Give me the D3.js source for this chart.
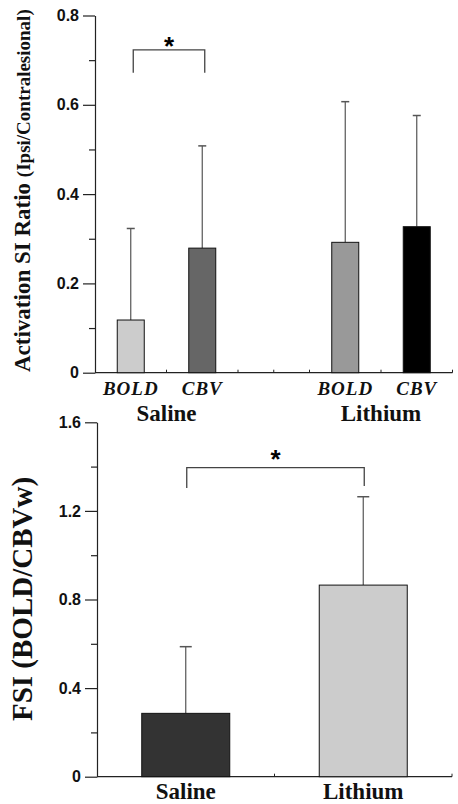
<!DOCTYPE html>
<html>
<head>
<meta charset="utf-8">
<script src="https://d3js.org/d3.v7.min.js"></script>
<style>
  body { margin: 0; background: #fff; }
  .tick text { font-family: "Liberation Sans", Arial, sans-serif; font-weight: bold; font-size: 16px; fill: #111; }
  .serif { font-family: "Liberation Serif", "Times New Roman", serif; font-weight: bold; fill: #111; }
</style>
</head>
<body>
<script>
/*
*    FSI / activation ratio bar charts
*/

// top panel data
var topGroups = ["Saline", "Lithium"];
var topMeasures = ["BOLD", "CBV"];
var topMeans = [0.118, 0.279, 0.292, 0.327];
var topErrors = [0.205, 0.229, 0.315, 0.249];
var topTicks = [0, 0.2, 0.4, 0.6, 0.8];
var topMinor = [0.1, 0.3, 0.5, 0.7];

// bottom panel data
var fsiGroups = ["Saline", "Lithium"];
var fsiMeans = [0.286, 0.865];
var fsiErrors = [0.301, 0.399];
var fsiTicks = [0, 0.4, 0.8, 1.2, 1.6];
var fsiMinor = [0.2, 0.6, 1.0, 1.4];

// styles
var topFills = ["#cccccc", "#666666", "#999999", "#000000"];
var fsiFills = ["#333333", "#cccccc"];
var errColor = "#555";
var axisColor = "#222";

var svg = d3.select("body")
    .append("svg")
        .attr("width", 458)
        .attr("height", 804);

function fmt(d) { return d === 0 ? "0" : d.toFixed(1); }

function yAxis(g, x0, y, ticks, minor) {
    var a = g.append("g").attr("transform", "translate(" + x0 + ",0)");
    a.append("g")
        .call(d3.axisLeft(y).tickValues(minor).tickSize(6).tickFormat(""))
        .call(s => s.select(".domain").remove());
    a.append("g")
        .call(d3.axisLeft(y).tickValues(ticks).tickSize(12).tickSizeOuter(0).tickPadding(4).tickFormat(fmt));
    a.selectAll("line, path").attr("stroke", axisColor).attr("stroke-width", 1.2);
}

// ---------- top panel ----------
var topSlots = [];
topGroups.forEach(function(g, i) {
    if (i > 0) topSlots.push("gap");
    topMeasures.forEach(function(m) { topSlots.push(g + "|" + m); });
});
var topBars = [];
topGroups.forEach(function(g, i) {
    topMeasures.forEach(function(m, j) {
        var k = i * topMeasures.length + j;
        topBars.push({key: g + "|" + m, group: g, measure: m, mean: topMeans[k], err: topErrors[k], fill: topFills[k]});
    });
});

var x1 = d3.scalePoint().domain(topSlots).range([95, 452.5]).padding(0.5);
var y1 = d3.scaleLinear().domain([0, 0.8]).range([372.7, 15.5]);
var bw1 = 27;

var g1 = svg.append("g");

// x axis line with small inner ticks
var step1 = x1.step();
var xTicks1 = topSlots.map(d => x1(d) + step1 / 2).concat([x1("gap")]);
g1.append("line")
    .attr("x1", x1.range()[0]).attr("x2", x1.range()[1])
    .attr("y1", y1(0)).attr("y2", y1(0))
    .attr("stroke", axisColor).attr("stroke-width", 1.2);
g1.selectAll(".xt").data(xTicks1).enter().append("line")
    .attr("x1", d => d).attr("x2", d => d)
    .attr("y1", y1(0)).attr("y2", y1(0) - 3)
    .attr("stroke", axisColor);

// error bars
var eb1 = g1.selectAll(".err").data(topBars).enter().append("g");
eb1.append("line")
    .attr("x1", d => x1(d.key)).attr("x2", d => x1(d.key))
    .attr("y1", d => y1(d.mean)).attr("y2", d => y1(d.mean + d.err))
    .attr("stroke", errColor).attr("stroke-width", 1.2);
eb1.append("line")
    .attr("x1", d => x1(d.key) - 4).attr("x2", d => x1(d.key) + 4)
    .attr("y1", d => y1(d.mean + d.err)).attr("y2", d => y1(d.mean + d.err))
    .attr("stroke", errColor).attr("stroke-width", 1.5);

g1.selectAll("rect").data(topBars).enter().append("rect")
    .attr("x", d => x1(d.key) - bw1 / 2)
    .attr("y", d => y1(d.mean))
    .attr("width", bw1)
    .attr("height", d => y1(0) - y1(d.mean))
    .attr("fill", d => d.fill)
    .attr("stroke", "#111")
    .attr("stroke-width", 1);

yAxis(g1, 95, y1, topTicks, topMinor);

// measure labels
g1.selectAll(".ml").data(topBars).enter().append("text")
    .attr("class", "serif")
    .attr("x", d => x1(d.key))
    .attr("y", 395)
    .attr("text-anchor", "middle")
    .attr("font-size", "19px")
    .attr("font-style", "italic")
    .attr("letter-spacing", "1px")
    .text(d => d.measure);

// group labels
g1.selectAll(".gl").data(topGroups).enter().append("text")
    .attr("class", "serif")
    .attr("x", d => (x1(d + "|" + topMeasures[0]) + x1(d + "|" + topMeasures[1])) / 2)
    .attr("y", 421)
    .attr("text-anchor", "middle")
    .attr("font-size", "23px")
    .text(d => d);

// significance bracket
var bA = x1("Saline|BOLD") + 2.5, bB = x1("Saline|CBV") + 2.5;
g1.append("path")
    .attr("d", "M" + bA + "," + y1(0.672) + "V" + y1(0.723) + "H" + bB + "V" + y1(0.672))
    .attr("fill", "none").attr("stroke", "#444").attr("stroke-width", 1.3);
g1.append("text")
    .attr("x", (bA + bB) / 2)
    .attr("y", 55)
    .attr("text-anchor", "middle")
    .attr("font-family", "Liberation Sans, Arial, sans-serif")
    .attr("font-weight", "bold")
    .attr("font-size", "26px")
    .text("*");

// y title
var t1 = g1.append("text")
    .attr("class", "serif")
    .attr("transform", "translate(30,372) rotate(-90)")
    .attr("text-anchor", "start");
t1.append("tspan").attr("font-size", "23px").text("Activation SI Ratio ");
t1.append("tspan").attr("font-size", "19px").text("(Ipsi/Contralesional)");

// ---------- bottom panel ----------
var fsiBars = fsiGroups.map(function(g, i) {
    return {key: g, mean: fsiMeans[i], err: fsiErrors[i], fill: fsiFills[i]};
});

var x2 = d3.scalePoint().domain(fsiGroups).range([97, 452]).padding(0.5);
var y2 = d3.scaleLinear().domain([0, 1.6]).range([776.7, 422.3]);
var bw2 = 88;

var g2 = svg.append("g");

var step2 = x2.step();
var xTicks2 = fsiGroups.map(d => x2(d)).concat(fsiGroups.map(d => x2(d) + step2 / 2));
g2.append("line")
    .attr("x1", x2.range()[0]).attr("x2", x2.range()[1])
    .attr("y1", y2(0)).attr("y2", y2(0))
    .attr("stroke", axisColor).attr("stroke-width", 1.2);
g2.selectAll(".xt").data(xTicks2).enter().append("line")
    .attr("x1", d => d).attr("x2", d => d)
    .attr("y1", y2(0)).attr("y2", y2(0) - 3)
    .attr("stroke", axisColor);

var eb2 = g2.selectAll(".err").data(fsiBars).enter().append("g");
eb2.append("line")
    .attr("x1", d => x2(d.key)).attr("x2", d => x2(d.key))
    .attr("y1", d => y2(d.mean)).attr("y2", d => y2(d.mean + d.err))
    .attr("stroke", errColor).attr("stroke-width", 1.2);
eb2.append("line")
    .attr("x1", d => x2(d.key) - 6).attr("x2", d => x2(d.key) + 6)
    .attr("y1", d => y2(d.mean + d.err)).attr("y2", d => y2(d.mean + d.err))
    .attr("stroke", errColor).attr("stroke-width", 1.5);

g2.selectAll("rect").data(fsiBars).enter().append("rect")
    .attr("x", d => x2(d.key) - bw2 / 2)
    .attr("y", d => y2(d.mean))
    .attr("width", bw2)
    .attr("height", d => y2(0) - y2(d.mean))
    .attr("fill", d => d.fill)
    .attr("stroke", "#111")
    .attr("stroke-width", 1);

yAxis(g2, 97, y2, fsiTicks, fsiMinor);

g2.selectAll(".gl").data(fsiGroups).enter().append("text")
    .attr("class", "serif")
    .attr("x", d => x2(d))
    .attr("y", 799)
    .attr("text-anchor", "middle")
    .attr("font-size", "23px")
    .text(d => d);

var cA = x2("Saline") + 1, cB = x2("Lithium") + 1;
g2.append("path")
    .attr("d", "M" + cA + "," + y2(1.303) + "V" + y2(1.395) + "H" + cB + "V" + y2(1.312))
    .attr("fill", "none").attr("stroke", "#444").attr("stroke-width", 1.3);
g2.append("text")
    .attr("x", (cA + cB) / 2)
    .attr("y", 468)
    .attr("text-anchor", "middle")
    .attr("font-family", "Liberation Sans, Arial, sans-serif")
    .attr("font-weight", "bold")
    .attr("font-size", "26px")
    .text("*");

g2.append("text")
    .attr("class", "serif")
    .attr("transform", "translate(32,599) rotate(-90)")
    .attr("text-anchor", "middle")
    .attr("font-size", "29px")
    .text("FSI (BOLD/CBVw)");
</script>
</body>
</html>
